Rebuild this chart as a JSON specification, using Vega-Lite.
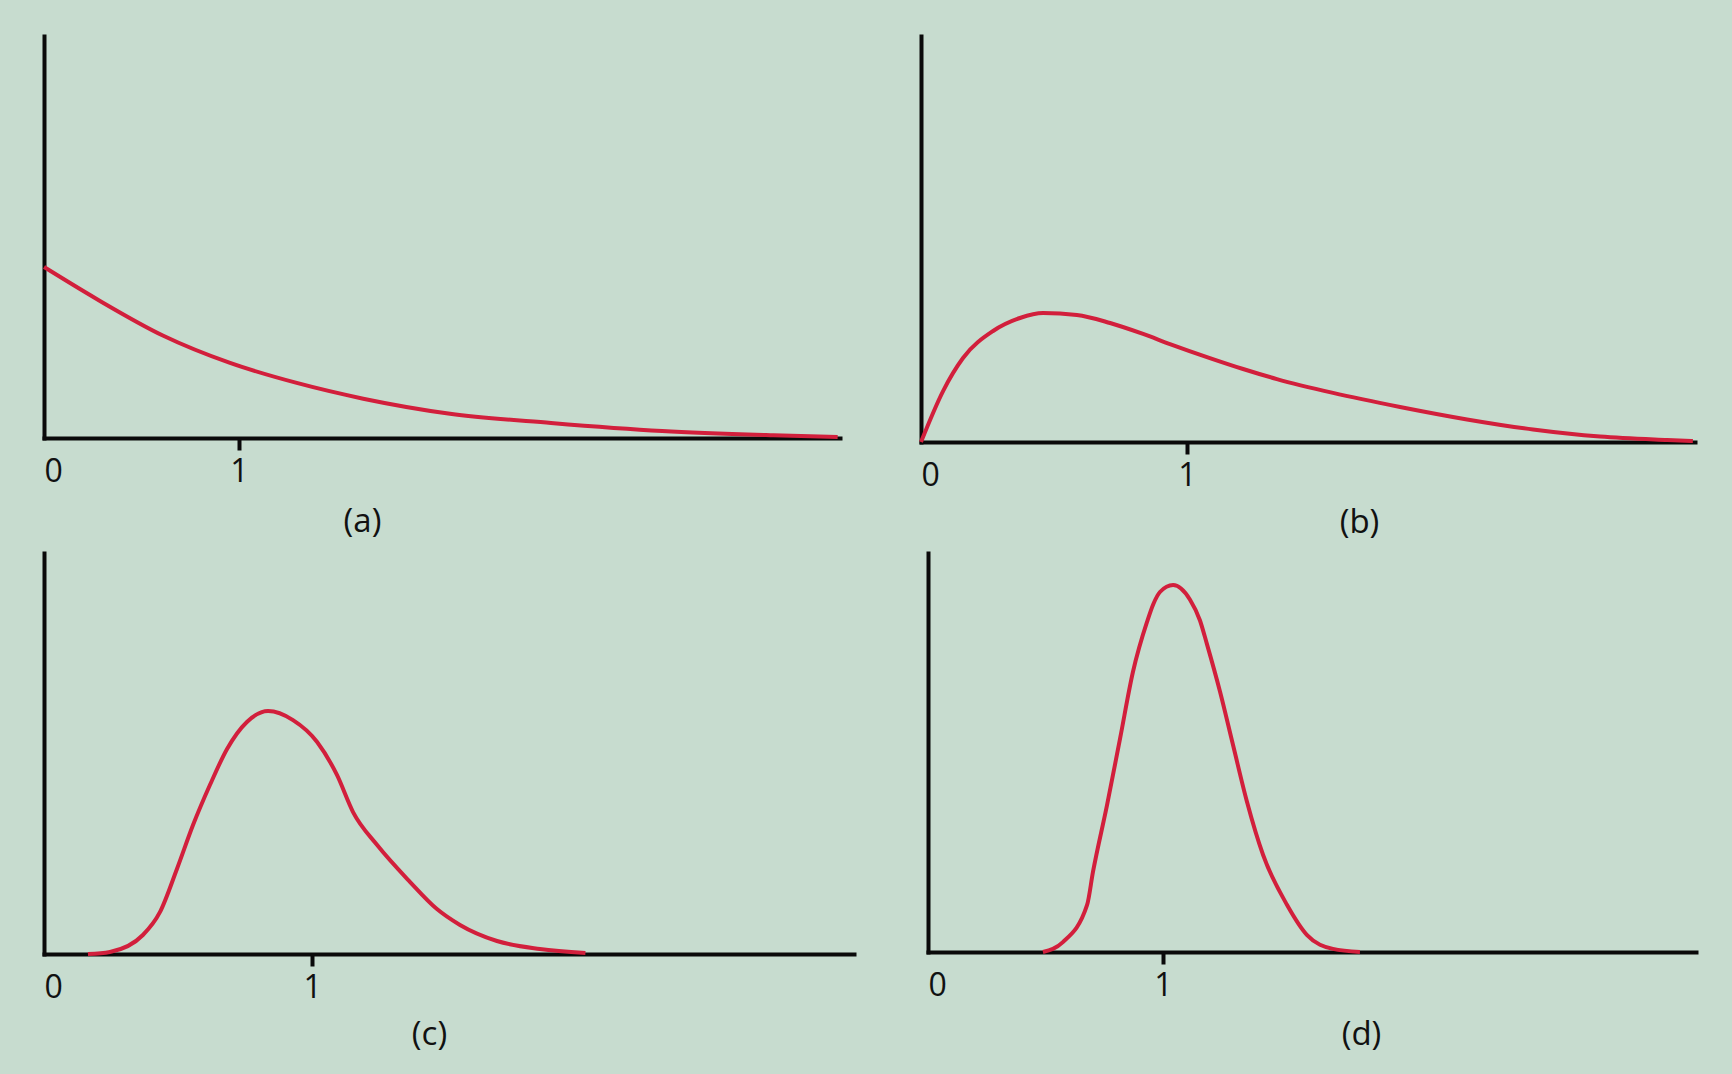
{
  "$schema": "https://vega.github.io/schema/vega-lite/v6.json",
  "background": "#c7dccf",
  "padding": {"left": 36, "top": 36, "right": 37, "bottom": 24},
  "spacing": 14,
  "config": {
    "view": {"stroke": null},
    "axis": {
      "grid": false,
      "domainColor": "#0a0a0a",
      "domainWidth": 4,
      "domainCap": "square",
      "tickColor": "#0a0a0a",
      "tickWidth": 4,
      "tickSize": 12,
      "labelFont": "Open Sans",
      "labelFontSize": 32,
      "labelColor": "#111111",
      "labelPadding": 6,
      "titleFont": "Open Sans",
      "titleFontSize": 33,
      "titleFontWeight": "normal",
      "titleColor": "#111111"
    },
    "line": {"color": "#d21f3c", "strokeWidth": 4, "interpolate": "monotone"}
  },
  "datasets": {
    "a": [
      {"x": 0, "y": 1.0}, {"x": 0.27, "y": 0.813}, {"x": 0.612, "y": 0.598},
      {"x": 0.954, "y": 0.439}, {"x": 1.296, "y": 0.322}, {"x": 1.637, "y": 0.23},
      {"x": 2.082, "y": 0.142}, {"x": 2.6, "y": 0.088}, {"x": 3.17, "y": 0.041},
      {"x": 3.74, "y": 0.016}, {"x": 4.07, "y": 0.006}
    ],
    "b": [
      {"x": 0, "y": 0}, {"x": 0.083, "y": 0.298}, {"x": 0.158, "y": 0.491},
      {"x": 0.271, "y": 0.649}, {"x": 0.372, "y": 0.725}, {"x": 0.459, "y": 0.754},
      {"x": 0.586, "y": 0.743}, {"x": 0.711, "y": 0.696}, {"x": 0.835, "y": 0.632},
      {"x": 0.936, "y": 0.573}, {"x": 1.086, "y": 0.491}, {"x": 1.211, "y": 0.427},
      {"x": 1.338, "y": 0.368}, {"x": 1.549, "y": 0.287}, {"x": 1.801, "y": 0.205},
      {"x": 2.053, "y": 0.132}, {"x": 2.301, "y": 0.073}, {"x": 2.553, "y": 0.032},
      {"x": 2.805, "y": 0.012}, {"x": 2.902, "y": 0.006}
    ],
    "c": [
      {"x": 0.164, "y": 0}, {"x": 0.246, "y": 0.012}, {"x": 0.369, "y": 0.111},
      {"x": 0.433, "y": 0.246}, {"x": 0.496, "y": 0.497}, {"x": 0.556, "y": 0.754},
      {"x": 0.619, "y": 0.988}, {"x": 0.683, "y": 1.199}, {"x": 0.757, "y": 1.357},
      {"x": 0.836, "y": 1.421}, {"x": 0.929, "y": 1.368}, {"x": 1.019, "y": 1.24},
      {"x": 1.093, "y": 1.047}, {"x": 1.153, "y": 0.83}, {"x": 1.243, "y": 0.637},
      {"x": 1.366, "y": 0.421}, {"x": 1.466, "y": 0.263}, {"x": 1.552, "y": 0.17},
      {"x": 1.69, "y": 0.076}, {"x": 1.85, "y": 0.029}, {"x": 2.02, "y": 0.006}
    ],
    "d": [
      {"x": 0.489, "y": 0}, {"x": 0.574, "y": 0.058}, {"x": 0.677, "y": 0.275},
      {"x": 0.702, "y": 0.468}, {"x": 0.762, "y": 0.86}, {"x": 0.817, "y": 1.246},
      {"x": 0.872, "y": 1.637}, {"x": 0.932, "y": 1.93}, {"x": 0.959, "y": 2.035},
      {"x": 0.987, "y": 2.105}, {"x": 1.043, "y": 2.146}, {"x": 1.115, "y": 2.06},
      {"x": 1.157, "y": 1.94}, {"x": 1.187, "y": 1.8}, {"x": 1.243, "y": 1.52},
      {"x": 1.298, "y": 1.21}, {"x": 1.357, "y": 0.88}, {"x": 1.426, "y": 0.567},
      {"x": 1.528, "y": 0.275}, {"x": 1.613, "y": 0.099}, {"x": 1.723, "y": 0.018},
      {"x": 1.838, "y": 0}
    ]
  },
  "vconcat": [
    {
      "bounds": "flush",
      "spacing": 81,
      "hconcat": [
        {
          "width": 796,
          "height": 402,
          "data": {"name": "a"},
          "mark": "line",
          "encoding": {
            "x": {
              "field": "x", "type": "quantitative",
              "scale": {"domain": [0, 4.082], "nice": false},
              "axis": {
                "values": [0, 1],
                "tickOpacity": {"condition": {"test": "datum.value === 0", "value": 0}, "value": 1},
                "title": "(a)", "titleX": 318, "titleY": 83,
                "titleAlign": "center", "titleBaseline": "middle"
              }
            },
            "y": {
              "field": "y", "type": "quantitative",
              "scale": {"domain": [0, 2.351], "nice": false},
              "axis": {"labels": false, "ticks": false, "title": null}
            }
          }
        },
        {
          "width": 774,
          "height": 406,
          "data": {"name": "b"},
          "mark": "line",
          "encoding": {
            "x": {
              "field": "x", "type": "quantitative",
              "scale": {"domain": [0, 2.91], "nice": false},
              "axis": {
                "values": [0, 1],
                "tickOpacity": {"condition": {"test": "datum.value === 0", "value": 0}, "value": 1},
                "title": "(b)", "titleX": 438, "titleY": 80,
                "titleAlign": "center", "titleBaseline": "middle"
              }
            },
            "y": {
              "field": "y", "type": "quantitative",
              "scale": {"domain": [0, 2.374], "nice": false},
              "axis": {"labels": false, "ticks": false, "title": null}
            }
          }
        }
      ]
    },
    {
      "bounds": "flush",
      "spacing": 74,
      "hconcat": [
        {
          "width": 810,
          "height": 401,
          "data": {"name": "c"},
          "mark": "line",
          "encoding": {
            "x": {
              "field": "x", "type": "quantitative",
              "scale": {"domain": [0, 3.022], "nice": false},
              "axis": {
                "values": [0, 1],
                "tickOpacity": {"condition": {"test": "datum.value === 0", "value": 0}, "value": 1},
                "title": "(c)", "titleX": 385, "titleY": 80,
                "titleAlign": "center", "titleBaseline": "middle"
              }
            },
            "y": {
              "field": "y", "type": "quantitative",
              "scale": {"domain": [0, 2.345], "nice": false},
              "axis": {"labels": false, "ticks": false, "title": null}
            }
          }
        },
        {
          "width": 768,
          "height": 399,
          "data": {"name": "d"},
          "mark": "line",
          "encoding": {
            "x": {
              "field": "x", "type": "quantitative",
              "scale": {"domain": [0, 3.268], "nice": false},
              "axis": {
                "values": [0, 1],
                "tickOpacity": {"condition": {"test": "datum.value === 0", "value": 0}, "value": 1},
                "title": "(d)", "titleX": 433, "titleY": 82,
                "titleAlign": "center", "titleBaseline": "middle"
              }
            },
            "y": {
              "field": "y", "type": "quantitative",
              "scale": {"domain": [0, 2.333], "nice": false},
              "axis": {"labels": false, "ticks": false, "title": null}
            }
          }
        }
      ]
    }
  ]
}
